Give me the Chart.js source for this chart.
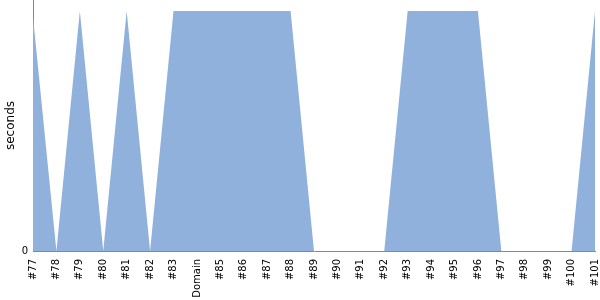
<!DOCTYPE html>
<html lang="en">
<head>
    <meta charset="UTF-8">
    <title>Build times</title>
    <script src="https://cdn.jsdelivr.net/npm/chart.js"></script>
    <style>
        html, body { margin: 0; padding: 0; background: white; }
        .chart-container { position: relative; width: 600px; height: 300px; }
    </style>
</head>
<body>
    <div class="chart-container">
        <canvas id="buildChart"></canvas>
    </div>

    <script>
        // Build labels along the x axis
        const builds = ['#77', '#78', '#79', '#80', '#81', '#82', '#83', 'Domain', '#85', '#86', '#87', '#88',
                        '#89', '#90', '#91', '#92', '#93', '#94', '#95', '#96', '#97', '#98', '#99', '#100', '#101'];
        // Duration per build (seconds)
        const durations = [0.975, 0, 1, 0, 1, 0, 1, 1, 1, 1, 1, 1,
                           0, 0, 0, 0, 1, 1, 1, 1, 0, 0, 0, 0, 1];
        const yTicks = [0];

        const ctx = document.getElementById('buildChart').getContext('2d');
        new Chart(ctx, {
            type: 'line',
            data: {
                labels: builds,
                datasets: [{
                    label: 'seconds',
                    data: durations,
                    fill: 'origin',
                    backgroundColor: 'rgb(143, 177, 219)',
                    borderColor: 'rgb(143, 177, 219)',
                    borderWidth: 0,
                    pointRadius: 0,
                    tension: 0
                }]
            },
            options: {
                responsive: true,
                maintainAspectRatio: false,
                animation: false,
                layout: { padding: { top: 0, right: 5, bottom: 0, left: 0 } },
                plugins: {
                    legend: { display: false },
                    tooltip: { enabled: false }
                },
                scales: {
                    x: {
                        offset: false,
                        grid: { display: false, drawTicks: false },
                        border: { display: true, color: '#888' },
                        // drop the extra side padding reserved for the rotated labels
                        afterFit: (s) => { s.paddingLeft = 0; s.paddingRight = 0; s.height = 49; },
                        ticks: {
                            color: '#000',
                            font: { family: 'DejaVu Sans', size: 10 },
                            minRotation: 90,
                            maxRotation: 90,
                            autoSkip: false,
                            padding: 8
                        }
                    },
                    y: {
                        min: 0,
                        max: 1.046,
                        grid: { display: false, drawTicks: false },
                        border: { display: true, color: '#888' },
                        afterBuildTicks: (axis) => { axis.ticks = yTicks.map(v => ({ value: v })); },
                        afterFit: (s) => { s.paddingTop = 0; s.paddingBottom = 0; s.width = 33; },
                        ticks: {
                            color: '#000',
                            font: { family: 'DejaVu Sans', size: 10 },
                            padding: 5
                        },
                        title: {
                            display: true,
                            text: 'seconds',
                            color: '#000',
                            font: { family: 'DejaVu Sans', size: 12 },
                            padding: 4
                        }
                    }
                }
            }
        });
    </script>
</body>
</html>
